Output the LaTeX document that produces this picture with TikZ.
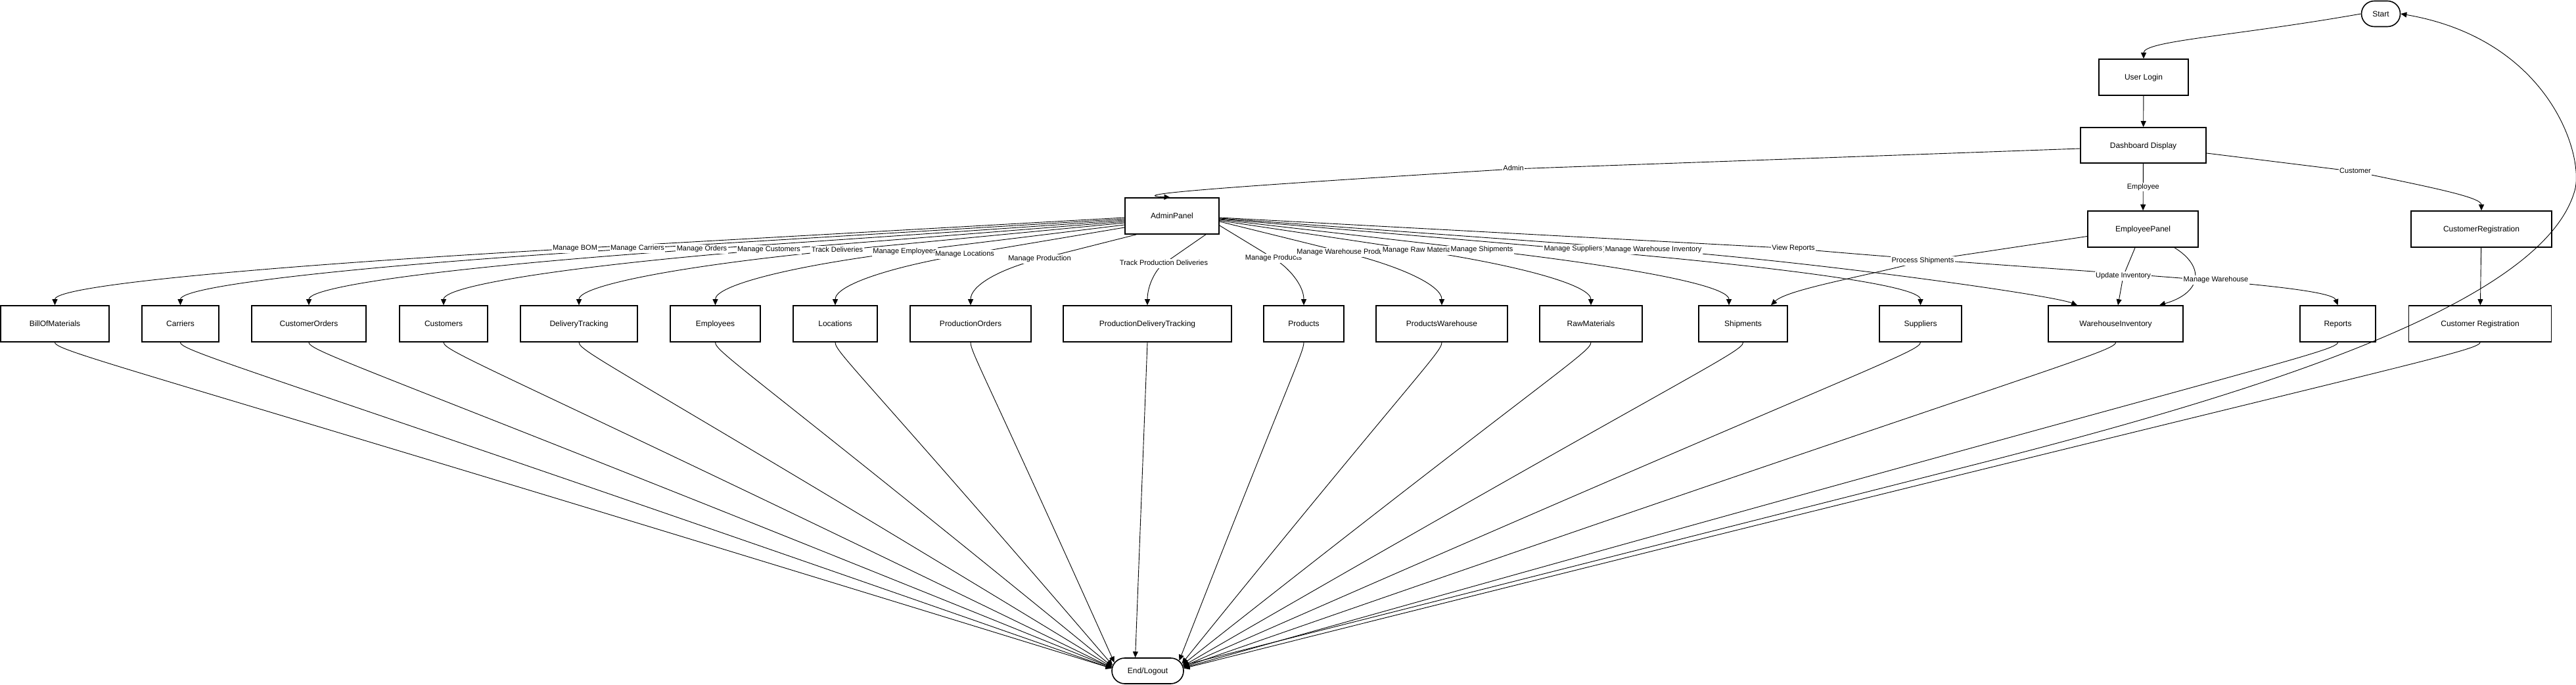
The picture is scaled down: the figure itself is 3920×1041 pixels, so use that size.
\documentclass[tikz,border=0pt]{standalone}
\usepackage{fontspec}
\setmainfont{Liberation Sans}
\usetikzlibrary{arrows.meta,calc,shapes.misc}
\newcommand{\aedge}[4]{\draw[edge] (#1) -- (#2) .. controls ($(#2)!-#4pt!(#1)$) and ($(#3)+(0,-30)$) .. (#3);}
\newcommand{\toend}[2]{\draw[edge] (#1.south) .. controls ($(#1.south)+(0,15)$) and ($(#1.south)!0.1!(logout.#2)$) .. (logout.#2);}
\begin{document}
\begin{tikzpicture}[x=1pt,y=-1pt,
  box/.style={draw=black, line width=1.6pt, rectangle, minimum height=55pt, inner sep=0pt, fill=white,
    font=\fontsize{12}{14}\selectfont, text height=8.6pt, text depth=0pt},
  term/.style={draw=black, line width=1.6pt, rounded rectangle, minimum height=39pt, inner sep=0pt, fill=white,
    font=\fontsize{12}{14}\selectfont, text height=8.6pt, text depth=0pt},
  edge/.style={draw=black, line width=0.9pt, -{Triangle[length=9pt,width=8pt]}},
  lbl/.style={fill=white, inner sep=1.5pt, font=\fontsize{11}{13}\selectfont, text height=8pt, text depth=2.4pt}]
\useasboundingbox (0,0) rectangle (3920,1041);

% ---------- nodes ----------
\node[term, minimum width=59pt] (start) at (3623,21) {Start};
\node[box, minimum width=136pt] (login) at (3262,117.5) {User Login};
\node[box, minimum width=191pt, minimum height=54pt] (dash) at (3261.5,221) {Dashboard Display};
\node[box, minimum width=143pt] (admin) at (1783.5,328.5) {AdminPanel};
\node[box, minimum width=168pt] (emp) at (3261,348.5) {EmployeePanel};
\node[box, minimum width=214pt] (custreg) at (3776,348.5) {CustomerRegistration};

\node[box, minimum width=165pt] (bom) at (83.5,492.5) {BillOfMaterials};
\node[box, minimum width=117pt] (carr) at (274.5,492.5) {Carriers};
\node[box, minimum width=174pt] (corders) at (470,492.5) {CustomerOrders};
\node[box, minimum width=134pt] (custs) at (675,492.5) {Customers};
\node[box, minimum width=178pt] (deliv) at (881,492.5) {DeliveryTracking};
\node[box, minimum width=137pt] (emps) at (1088.5,492.5) {Employees};
\node[box, minimum width=128pt] (locs) at (1271,492.5) {Locations};
\node[box, minimum width=184pt] (porders) at (1477,492.5) {ProductionOrders};
\node[box, minimum width=256pt] (pdt) at (1746,492.5) {ProductionDeliveryTracking};
\node[box, minimum width=122pt] (prods) at (1984,492.5) {Products};
\node[box, minimum width=200pt] (pware) at (2194,492.5) {ProductsWarehouse};
\node[box, minimum width=156pt] (raw) at (2421,492.5) {RawMaterials};
\node[box, minimum width=135pt] (ship) at (2652.5,492.5) {Shipments};
\node[box, minimum width=125pt] (supp) at (2922.5,492.5) {Suppliers};
\node[box, minimum width=205pt] (winv) at (3219.5,492.5) {WarehouseInventory};
\node[box, minimum width=115pt] (reports) at (3557.5,492.5) {Reports};
\node[box, minimum width=217pt] (custreg2) at (3774,492.5) {Customer Registration};

\node[term, minimum width=109pt] (logout) at (1746.5,1020.5) {End/Logout};

% ---------- helper coordinates ----------
\coordinate (sBOM) at ($(admin.west)+(0,2.5)$);
\coordinate (sCarr) at ($(admin.west)+(0,4.5)$);
\coordinate (sCO) at ($(admin.west)+(0,6.5)$);
\coordinate (sCust) at ($(admin.west)+(0,8.5)$);
\coordinate (sDel) at ($(admin.west)+(0,10.5)$);
\coordinate (sEmps) at ($(admin.west)+(0,13.5)$);
\coordinate (sLoc) at ($(admin.west)+(0,17.5)$);
\coordinate (sPO) at ($(admin.south west)+(18,0)$);
\coordinate (sPDT) at ($(admin.south east)+(-21,0)$);
\coordinate (sProd) at ($(admin.east)+(0,14.5)$);
\coordinate (sPW) at ($(admin.east)+(0,8.5)$);
\coordinate (sRaw) at ($(admin.east)+(0,7)$);
\coordinate (sShip) at ($(admin.east)+(0,5.5)$);
\coordinate (sSupp) at ($(admin.east)+(0,4.5)$);
\coordinate (sWinv) at ($(admin.east)+(0,3.5)$);
\coordinate (sRep) at ($(admin.east)+(0,2.5)$);

\coordinate (lBOM) at (875,378);
\coordinate (lCarr) at (970,378);
\coordinate (lCO) at (1068,379);
\coordinate (lCust) at (1170,380);
\coordinate (lDel) at (1274,381);
\coordinate (lEmps) at (1377,383);
\coordinate (lLoc) at (1468,387);
\coordinate (lPO) at (1582,394);
\coordinate (lPDT) at (1771,401);
\coordinate (lProd) at (1938,393);
\coordinate (lPW) at (2046,384);
\coordinate (lRaw) at (2160,381);
\coordinate (lShip) at (2255,380);
\coordinate (lSupp) at (2394,379);
\coordinate (lWinv) at (2516,380);
\coordinate (lRep) at (2729,378);
\coordinate (lAdm) at (2303,257);
\coordinate (lCustomer) at (3584,261);
\coordinate (lPS) at (2926,397);
\coordinate (lUI) at (3231,420);
\coordinate (lMW) at (3372,426);

\coordinate (tShipA) at ($(ship.north)+(-21.5,0)$);
\coordinate (tShipE) at ($(ship.north)+(42.5,0)$);
\coordinate (tWA) at ($(winv.north)+(-58.5,0)$);
\coordinate (tWU) at ($(winv.north)+(3.5,0)$);
\coordinate (tWM) at ($(winv.north)+(66.5,0)$);
\coordinate (sPS) at ($(emp.west)+(0,11)$);
\coordinate (sUI) at ($(emp.south)+(-12,0)$);
\coordinate (sMW) at ($(emp.south)+(48,0)$);

% ---------- top flow ----------
\draw[edge] (start.west) .. controls (3400,55) and (3262,62) .. (login.north);
\draw[edge] (login) -- (dash);
\draw[edge] (dash) -- (emp);
\draw[edge] ($(dash.west)+(0,5)$) -- (lAdm) .. controls (1900,282) and (1700,296) .. ($(admin.north)+(-3,0)$);
\draw[edge] ($(dash.east)+(0,12)$) -- (lCustomer) .. controls (3700,285) and (3776,300) .. (custreg.north);
\draw[edge] (custreg) -- (custreg2);

% ---------- admin edges ----------
\aedge{sBOM}{lBOM}{bom.north}{475}
\aedge{sCarr}{lCarr}{carr.north}{417}
\aedge{sCO}{lCO}{corders.north}{359}
\aedge{sCust}{lCust}{custs.north}{297}
\aedge{sDel}{lDel}{deliv.north}{236}
\aedge{sEmps}{lEmps}{emps.north}{173}
\aedge{sLoc}{lLoc}{locs.north}{118}
\aedge{sPO}{lPO}{porders.north}{63}
\aedge{sPDT}{lPDT}{pdt.north}{15}
\aedge{sProd}{lProd}{prods.north}{28}
\aedge{sPW}{lPW}{pware.north}{89}
\aedge{sRaw}{lRaw}{raw.north}{157}
\aedge{sShip}{lShip}{tShipA}{226}
\aedge{sSupp}{lSupp}{supp.north}{318}
\draw[edge] (sWinv) -- (lWinv) .. controls ($(lWinv)!-235pt!(sWinv)$) and (3120,448) .. (tWA);
\draw[edge] (sRep) -- (lRep) .. controls (3080,410) and (3545,430) .. (reports.north);

% ---------- employee edges ----------
\draw[edge] (sPS) -- (lPS) .. controls (2840,420) and (2720,440) .. (tShipE);
\draw[edge] (sUI) -- (lUI) -- (tWU);
\draw[edge] (sMW) .. controls (3355,405) and (3352,445) .. (tWM);

% ---------- edges to End/Logout ----------
\toend{bom}{176}
\toend{carr}{176}
\toend{corders}{175}
\toend{custs}{175}
\toend{deliv}{174}
\toend{emps}{173}
\toend{locs}{171}
\toend{porders}{166}
\draw[edge] (pdt.south) -- (logout.133);
\toend{prods}{18}
\toend{pware}{12}
\toend{raw}{10}
\toend{ship}{8}
\toend{supp}{7}
\toend{winv}{6}
\toend{reports}{5}
\toend{custreg2}{4}

% ---------- loop back to Start ----------
\draw[edge] (logout.9) -- (3000,708) .. controls (3450,594) and (3870,460) .. (3918,290)
  .. controls (3933,237) and (3880,60) .. (start.east);

% ---------- labels ----------
\node[lbl] (xBOM) at (lBOM) {Manage BOM};
\node[lbl] (xCarr) at (lCarr) {Manage Carriers};
\node[lbl] (xCO) at (lCO) {Manage Orders};
\node[lbl] (xCust) at (lCust) {Manage Customers};
\node[lbl] (xDel) at (lDel) {Track Deliveries};
\node[lbl] (xEmps) at (lEmps) {Manage Employees};
\node[lbl] (xLoc) at (lLoc) {Manage Locations};
\node[lbl] (xPO) at (lPO) {Manage Production};
\node[lbl] (xPDT) at (lPDT) {Track Production Deliveries};
\node[lbl] (xProd) at (lProd) {Manage Products};
\node[lbl] (xPW) at (lPW) {Manage Warehouse Products};
\node[lbl] (xRaw) at (lRaw) {Manage Raw Materials};
\node[lbl] (xShip) at (lShip) {Manage Shipments};
\node[lbl] (xSupp) at (lSupp) {Manage Suppliers};
\node[lbl] (xWinv) at (lWinv) {Manage Warehouse Inventory};
\node[lbl] (xRep) at (lRep) {View Reports};
\node[lbl] (xAdm) at (lAdm) {Admin};
\node[lbl] (xEmpl) at ($(dash.south)!0.5!(emp.north)$) {Employee};
\node[lbl] (xCustomer) at (lCustomer) {Customer};
\node[lbl] (xPS) at (lPS) {Process Shipments};
\node[lbl] (xUI) at (lUI) {Update Inventory};
\node[lbl] (xMW) at (lMW) {Manage Warehouse};
\end{tikzpicture}
\end{document}
